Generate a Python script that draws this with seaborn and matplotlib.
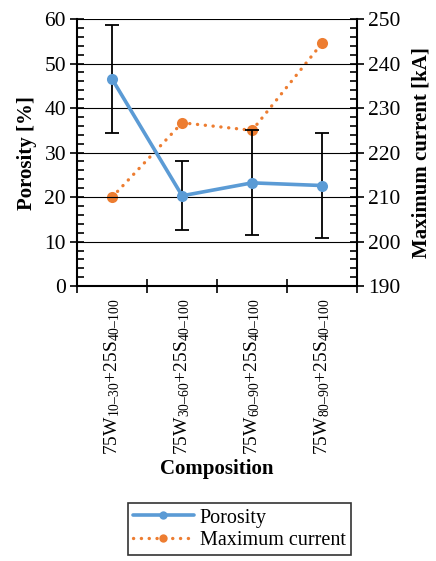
import matplotlib
matplotlib.use("Agg")
import matplotlib.pyplot as plt
import seaborn as sns
import pandas as pd
import numpy as np
from matplotlib.ticker import MultipleLocator, FixedLocator, NullFormatter

sns.set_theme(style="white")
plt.rcParams['font.family'] = ['Liberation Serif', 'DejaVu Serif']
plt.rcParams['mathtext.fontset'] = 'custom'
plt.rcParams['mathtext.rm'] = 'Liberation Serif'
plt.rcParams['mathtext.default'] = 'regular'
for k in ['text.color', 'axes.labelcolor', 'xtick.color', 'ytick.color']:
    plt.rcParams[k] = 'black'

categories = ["75W$_{10\u201330}$+25S$_{40\u2013100}$",
              "75W$_{30\u201360}$+25S$_{40\u2013100}$",
              "75W$_{60\u201390}$+25S$_{40\u2013100}$",
              "75W$_{80\u201390}$+25S$_{40\u2013100}$"]
porosity = [46.5, 20.3, 23.2, 22.6]
porosity_err = [12.2, 7.7, 11.8, 11.7]
max_current = [210.0, 226.7, 225.0, 244.6]

blue = "#5B9BD5"
orange = "#ED7D31"

df = pd.DataFrame({"pos": np.arange(len(categories)), "Porosity": porosity,
                   "Maximum current": max_current})

fig = plt.figure(figsize=(4.36, 5.61), dpi=100)
ax = fig.add_axes([0.177, 0.490, 0.642, 0.476])
ax2 = ax.twinx()

ax.set_ylim(0, 60)
ax.set_xlim(-0.5, len(categories) - 0.5)
for y in range(10, 61, 10):
    ax.axhline(y, color="black", lw=0.8, zorder=0)

ax.errorbar(df["pos"], porosity, yerr=porosity_err, fmt="none", ecolor="black",
            elinewidth=1.3, capsize=5, capthick=1.3, zorder=3)
sns.lineplot(data=df, x="pos", y="Porosity", ax=ax, color=blue, lw=2.6,
             marker="o", markersize=8, markeredgewidth=0, zorder=4,
             label="Porosity", legend=False)
sns.lineplot(data=df, x="pos", y="Maximum current", ax=ax2, color=orange, lw=2.4,
             linestyle=(0, (0.05, 2.3)), dash_capstyle="round",
             marker="o", markersize=8, markeredgewidth=0, zorder=4,
             label="Maximum current", legend=False)
ax2.set_ylim(190, 250)

ax.yaxis.set_major_locator(MultipleLocator(10))
ax.yaxis.set_minor_locator(MultipleLocator(2))
ax2.yaxis.set_major_locator(MultipleLocator(10))
ax2.yaxis.set_minor_locator(MultipleLocator(2))
ax.tick_params(axis="y", which="major", direction="inout", length=10, width=1.2,
               labelsize=15.5, left=True, right=False, pad=3)
ax.tick_params(axis="y", which="minor", direction="in", length=5, width=1.2,
               left=True, right=False)
ax2.tick_params(axis="y", which="major", direction="inout", length=10, width=1.2,
                labelsize=15.5, right=True, left=False, pad=3)
ax2.tick_params(axis="y", which="minor", direction="in", length=5, width=1.2,
                right=True, left=False)

ax.xaxis.set_major_locator(FixedLocator(np.arange(-0.5, len(categories), 1.0)))
ax.xaxis.set_major_formatter(NullFormatter())
ax.xaxis.set_minor_locator(FixedLocator(np.arange(len(categories))))
ax.set_xticklabels(categories, minor=True, rotation=90, fontsize=14)
ax.tick_params(axis="x", which="major", direction="inout", length=10, width=1.2, bottom=True)
ax.tick_params(axis="x", which="minor", length=0, pad=9)

for a in (ax, ax2):
    for s in a.spines.values():
        s.set_visible(False)
ax.spines["left"].set_visible(True)
ax.spines["bottom"].set_visible(True)
ax2.spines["right"].set_visible(True)
for s in (ax.spines["left"], ax.spines["bottom"], ax2.spines["right"]):
    s.set_color("black")
    s.set_linewidth(1.5)

ax.set_ylabel("Porosity [%]", fontsize=15, fontweight="bold", labelpad=5)
ax2.set_ylabel("Maximum current [kA]", fontsize=15, fontweight="bold", labelpad=8)
ax.set_xlabel("Composition", fontsize=15, fontweight="bold", labelpad=3)
ax.set_zorder(ax2.get_zorder() + 1)
ax.patch.set_visible(False)

h1, l1 = ax.get_legend_handles_labels()
h2, l2 = ax2.get_legend_handles_labels()
leg = fig.legend(h1 + h2, l1 + l2, loc="center", bbox_to_anchor=(0.549, 0.057),
                 fontsize=14.5, frameon=True, fancybox=False, edgecolor="black",
                 handlelength=3.0, handletextpad=0.3, borderpad=0.25,
                 labelspacing=0.15, borderaxespad=0)
leg.get_frame().set_linewidth(1.2)
for lh in leg.get_lines():
    lh.set_markersize(6)

fig.savefig("out.png", dpi=100)
